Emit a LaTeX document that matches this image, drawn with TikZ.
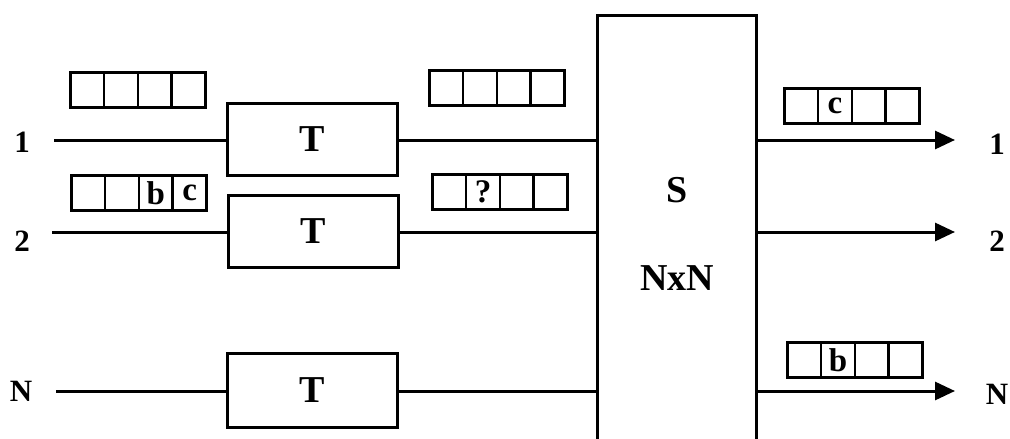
\documentclass[tikz,border=0pt]{standalone}
\usepackage{fontspec}
\setmainfont{Liberation Serif}
\usetikzlibrary{arrows.meta}
\begin{document}
\begin{tikzpicture}[x=1pt,y=-1pt,
  ln/.style={line width=3pt},
  tbox/.style={draw,line width=3pt,minimum width=170pt,minimum height=72pt,inner sep=0pt,font=\fontsize{38}{38}\bfseries\selectfont},
  cell/.style={draw,line width=2.6pt,minimum width=33.8pt,minimum height=35pt,inner sep=0pt,anchor=north west,font=\fontsize{33}{33}\bfseries\selectfont},
  lbl/.style={inner sep=0pt,font=\fontsize{31}{31}\bfseries\selectfont},
  arr/.style={ln,-{Triangle[length=20pt,width=18pt]}}]
\clip (0,0) rectangle (1010,439);
% switch
\node[draw,line width=3pt,minimum width=159pt,minimum height=445pt,inner sep=0pt] (S) at (676.5,237.5) {};
\node[lbl,font=\fontsize{38}{38}\bfseries\selectfont] (Sl) at (677,190) {S};
\node[lbl,font=\fontsize{38}{38}\bfseries\selectfont] (NxN) at (677,278) {NxN};
% T boxes
\node[tbox] (T1) at (312,139) {T};
\node[tbox] (T2) at (313.5,231.5) {T};
\node[tbox,minimum height=74pt] (TN) at (312.5,390) {T};
% input labels
\node[lbl] (i1) at (22,142) {1};
\node[lbl] (i2) at (22,241) {2};
\node[lbl] (iN) at (21,391) {N};
\coordinate (a1) at (54,140);
\coordinate (a2) at (52,232);
\coordinate (aN) at (56,391);
\draw[ln] (a1) -- (a1 -| T1.west);
\draw[ln] (a2) -- (a2 -| T2.west);
\draw[ln] (aN) -- (aN -| TN.west);
\draw[ln] (a1 -| T1.east) -- (a1 -| S.west);
\draw[ln] (a2 -| T2.east) -- (a2 -| S.west);
\draw[ln] (aN -| TN.east) -- (aN -| S.west);
% outputs
\coordinate (o1) at (955,140);
\coordinate (o2) at (955,232);
\coordinate (oN) at (955,391);
\draw[arr] (o1 -| S.east) -- (o1);
\draw[arr] (o2 -| S.east) -- (o2);
\draw[arr] (oN -| S.east) -- (oN);
\node[lbl] (r1) at (997,144) {1};
\node[lbl] (r2) at (997,241) {2};
\node[lbl] (rN) at (997,394) {N};
% buffers
\foreach \nm/\x/\y/\la/\lb/\lc/\ld in {
  A/69/71/{}/{}/{}/{},
  B/70/174/{}/{}/b/c,
  C/428/69/{}/{}/{}/{},
  D/431/173/{}/?/{}/{},
  E/783/87/{}/c/{}/{},
  F/786/341/{}/b/{}/{}}{
  \node[cell] (\nm1) at (\x,\y) {\la};
  \node[cell] (\nm2) at (\x+33.8,\y) {\lb};
  \node[cell] (\nm3) at (\x+67.6,\y) {\lc};
  \node[cell] (\nm4) at (\x+101.4,\y) {\ld};
}
\end{tikzpicture}
\end{document}
